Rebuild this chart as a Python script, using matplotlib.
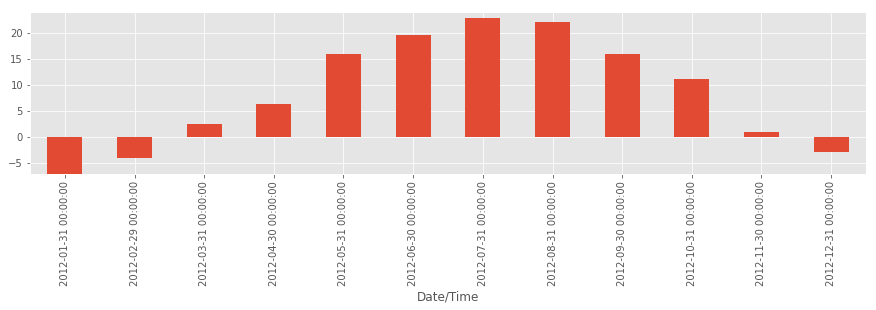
import matplotlib
matplotlib.use("Agg")
import matplotlib.pyplot as plt
import pandas as pd

# monthly mean temperature, 2012
months = ["2012-01-31", "2012-02-29", "2012-03-31", "2012-04-30", "2012-05-31", "2012-06-30",
          "2012-07-31", "2012-08-31", "2012-09-30", "2012-10-31", "2012-11-30", "2012-12-31"]
temps = [-7.37, -3.98, 2.5, 6.36, 16.0, 19.65, 22.9, 22.15, 16.0, 11.17, 0.96, -2.9]

plt.style.use("ggplot")
plt.rcParams["font.family"] = ["DejaVu Sans"]

s = pd.Series(temps, index=pd.DatetimeIndex(pd.to_datetime(months), name="Date/Time"))

fig = plt.figure(figsize=(876 / 72, 310 / 72), dpi=72)
ax = fig.add_axes([30 / 876, 1 - 174 / 310, 836 / 876, 162 / 310])
s.plot(kind="bar", ax=ax)
ax.set_ylim(-7.13, 24.1)

fig.savefig("out.png", dpi=72)
